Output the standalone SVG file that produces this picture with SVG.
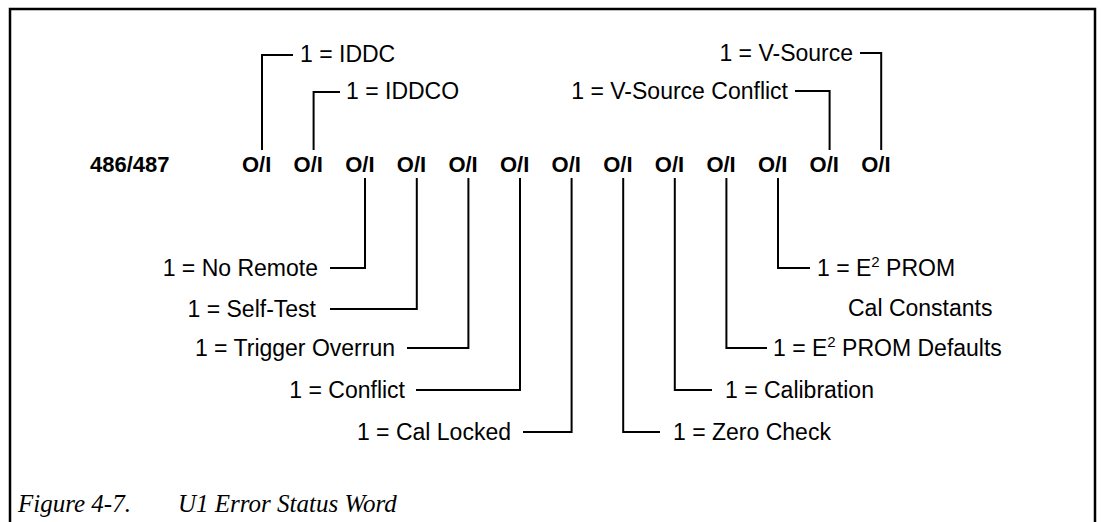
<svg xmlns="http://www.w3.org/2000/svg" width="1102" height="522" viewBox="0 0 1102 522">
<style>
.lbl{font-family:"Liberation Sans",Arial,Helvetica,sans-serif;font-size:23px;fill:#000}
.bit{font-family:"Liberation Sans",Arial,Helvetica,sans-serif;font-size:22px;font-weight:bold;fill:#000}
.cap{font-family:"Liberation Serif","Times New Roman",serif;font-size:25px;font-style:italic;fill:#000}
.wire{fill:none;stroke:#000;stroke-width:2}
.sup{font-size:15px}
</style>
<rect x="0" y="0" width="1102" height="522" fill="#fff"/>
<path id="frame" d="M10,522 V9 H1095 V522" fill="none" stroke="#000" stroke-width="2.5"/>
<g id="word">
<text class="bit" x="90" y="172">486/487</text>
</g>
<g id="bits">
<g id="bit1"><text class="bit" x="242" y="172">O/I</text></g>
<g id="bit2"><text class="bit" x="293.6" y="172">O/I</text></g>
<g id="bit3"><text class="bit" x="345.2" y="172">O/I</text></g>
<g id="bit4"><text class="bit" x="396.8" y="172">O/I</text></g>
<g id="bit5"><text class="bit" x="448.4" y="172">O/I</text></g>
<g id="bit6"><text class="bit" x="500" y="172">O/I</text></g>
<g id="bit7"><text class="bit" x="551.6" y="172">O/I</text></g>
<g id="bit8"><text class="bit" x="603.2" y="172">O/I</text></g>
<g id="bit9"><text class="bit" x="654.8" y="172">O/I</text></g>
<g id="bit10"><text class="bit" x="706.4" y="172">O/I</text></g>
<g id="bit11"><text class="bit" x="758" y="172">O/I</text></g>
<g id="bit12"><text class="bit" x="809.6" y="172">O/I</text></g>
<g id="bit13"><text class="bit" x="861.2" y="172">O/I</text></g>
</g>
<g id="connectors">
<path class="wire" d="M262,150 V55 H293"/>
<path class="wire" d="M313.6,150 V92 H340"/>
<path class="wire" d="M881.2,150 V53 H860"/>
<path class="wire" d="M829.6,150 V91 H795"/>
<path class="wire" d="M365,178 V268 H330"/>
<path class="wire" d="M416.8,178 V309 H330"/>
<path class="wire" d="M468.4,178 V348 H407"/>
<path class="wire" d="M520,178 V390 H416"/>
<path class="wire" d="M571.6,178 V432 H523"/>
<path class="wire" d="M623.2,178 V432 H660"/>
<path class="wire" d="M674.8,178 V390 H712"/>
<path class="wire" d="M726.4,178 V348 H767"/>
<path class="wire" d="M778,178 V268 H810"/>
</g>
<g id="lbl-iddc"><text class="lbl" x="300" y="62">1 = IDDC</text></g>
<g id="lbl-iddco"><text class="lbl" x="346" y="99">1 = IDDCO</text></g>
<g id="lbl-vsource"><text class="lbl" x="853" y="61" text-anchor="end">1 = V-Source</text></g>
<g id="lbl-vconflict"><text class="lbl" x="788" y="99" text-anchor="end">1 = V-Source Conflict</text></g>
<g id="lbl-noremote"><text class="lbl" x="318" y="276" text-anchor="end">1 = No Remote</text></g>
<g id="lbl-selftest"><text class="lbl" x="316" y="317" text-anchor="end">1 = Self-Test</text></g>
<g id="lbl-trigger"><text class="lbl" x="395" y="356" text-anchor="end">1 = Trigger Overrun</text></g>
<g id="lbl-conflict"><text class="lbl" x="405" y="398" text-anchor="end">1 = Conflict</text></g>
<g id="lbl-callocked"><text class="lbl" x="511" y="440" text-anchor="end">1 = Cal Locked</text></g>
<g id="lbl-zerocheck"><text class="lbl" x="673" y="440">1 = Zero Check</text></g>
<g id="lbl-calibration"><text class="lbl" x="725" y="398">1 = Calibration</text></g>
<g id="lbl-defaults"><text class="lbl" x="773" y="356">1 = E<tspan class="sup" dy="-9">2</tspan><tspan dy="9"> PROM Defaults</tspan></text></g>
<g id="lbl-calconst"><text class="lbl" x="817" y="276">1 = E<tspan class="sup" dy="-9">2</tspan><tspan dy="9"> PROM</tspan></text><text class="lbl" x="848" y="316">Cal Constants</text></g>
<g id="caption"><text class="cap" x="18" y="512">Figure 4-7.</text><text class="cap" x="178" y="512">U1 Error Status Word</text></g>
</svg>
